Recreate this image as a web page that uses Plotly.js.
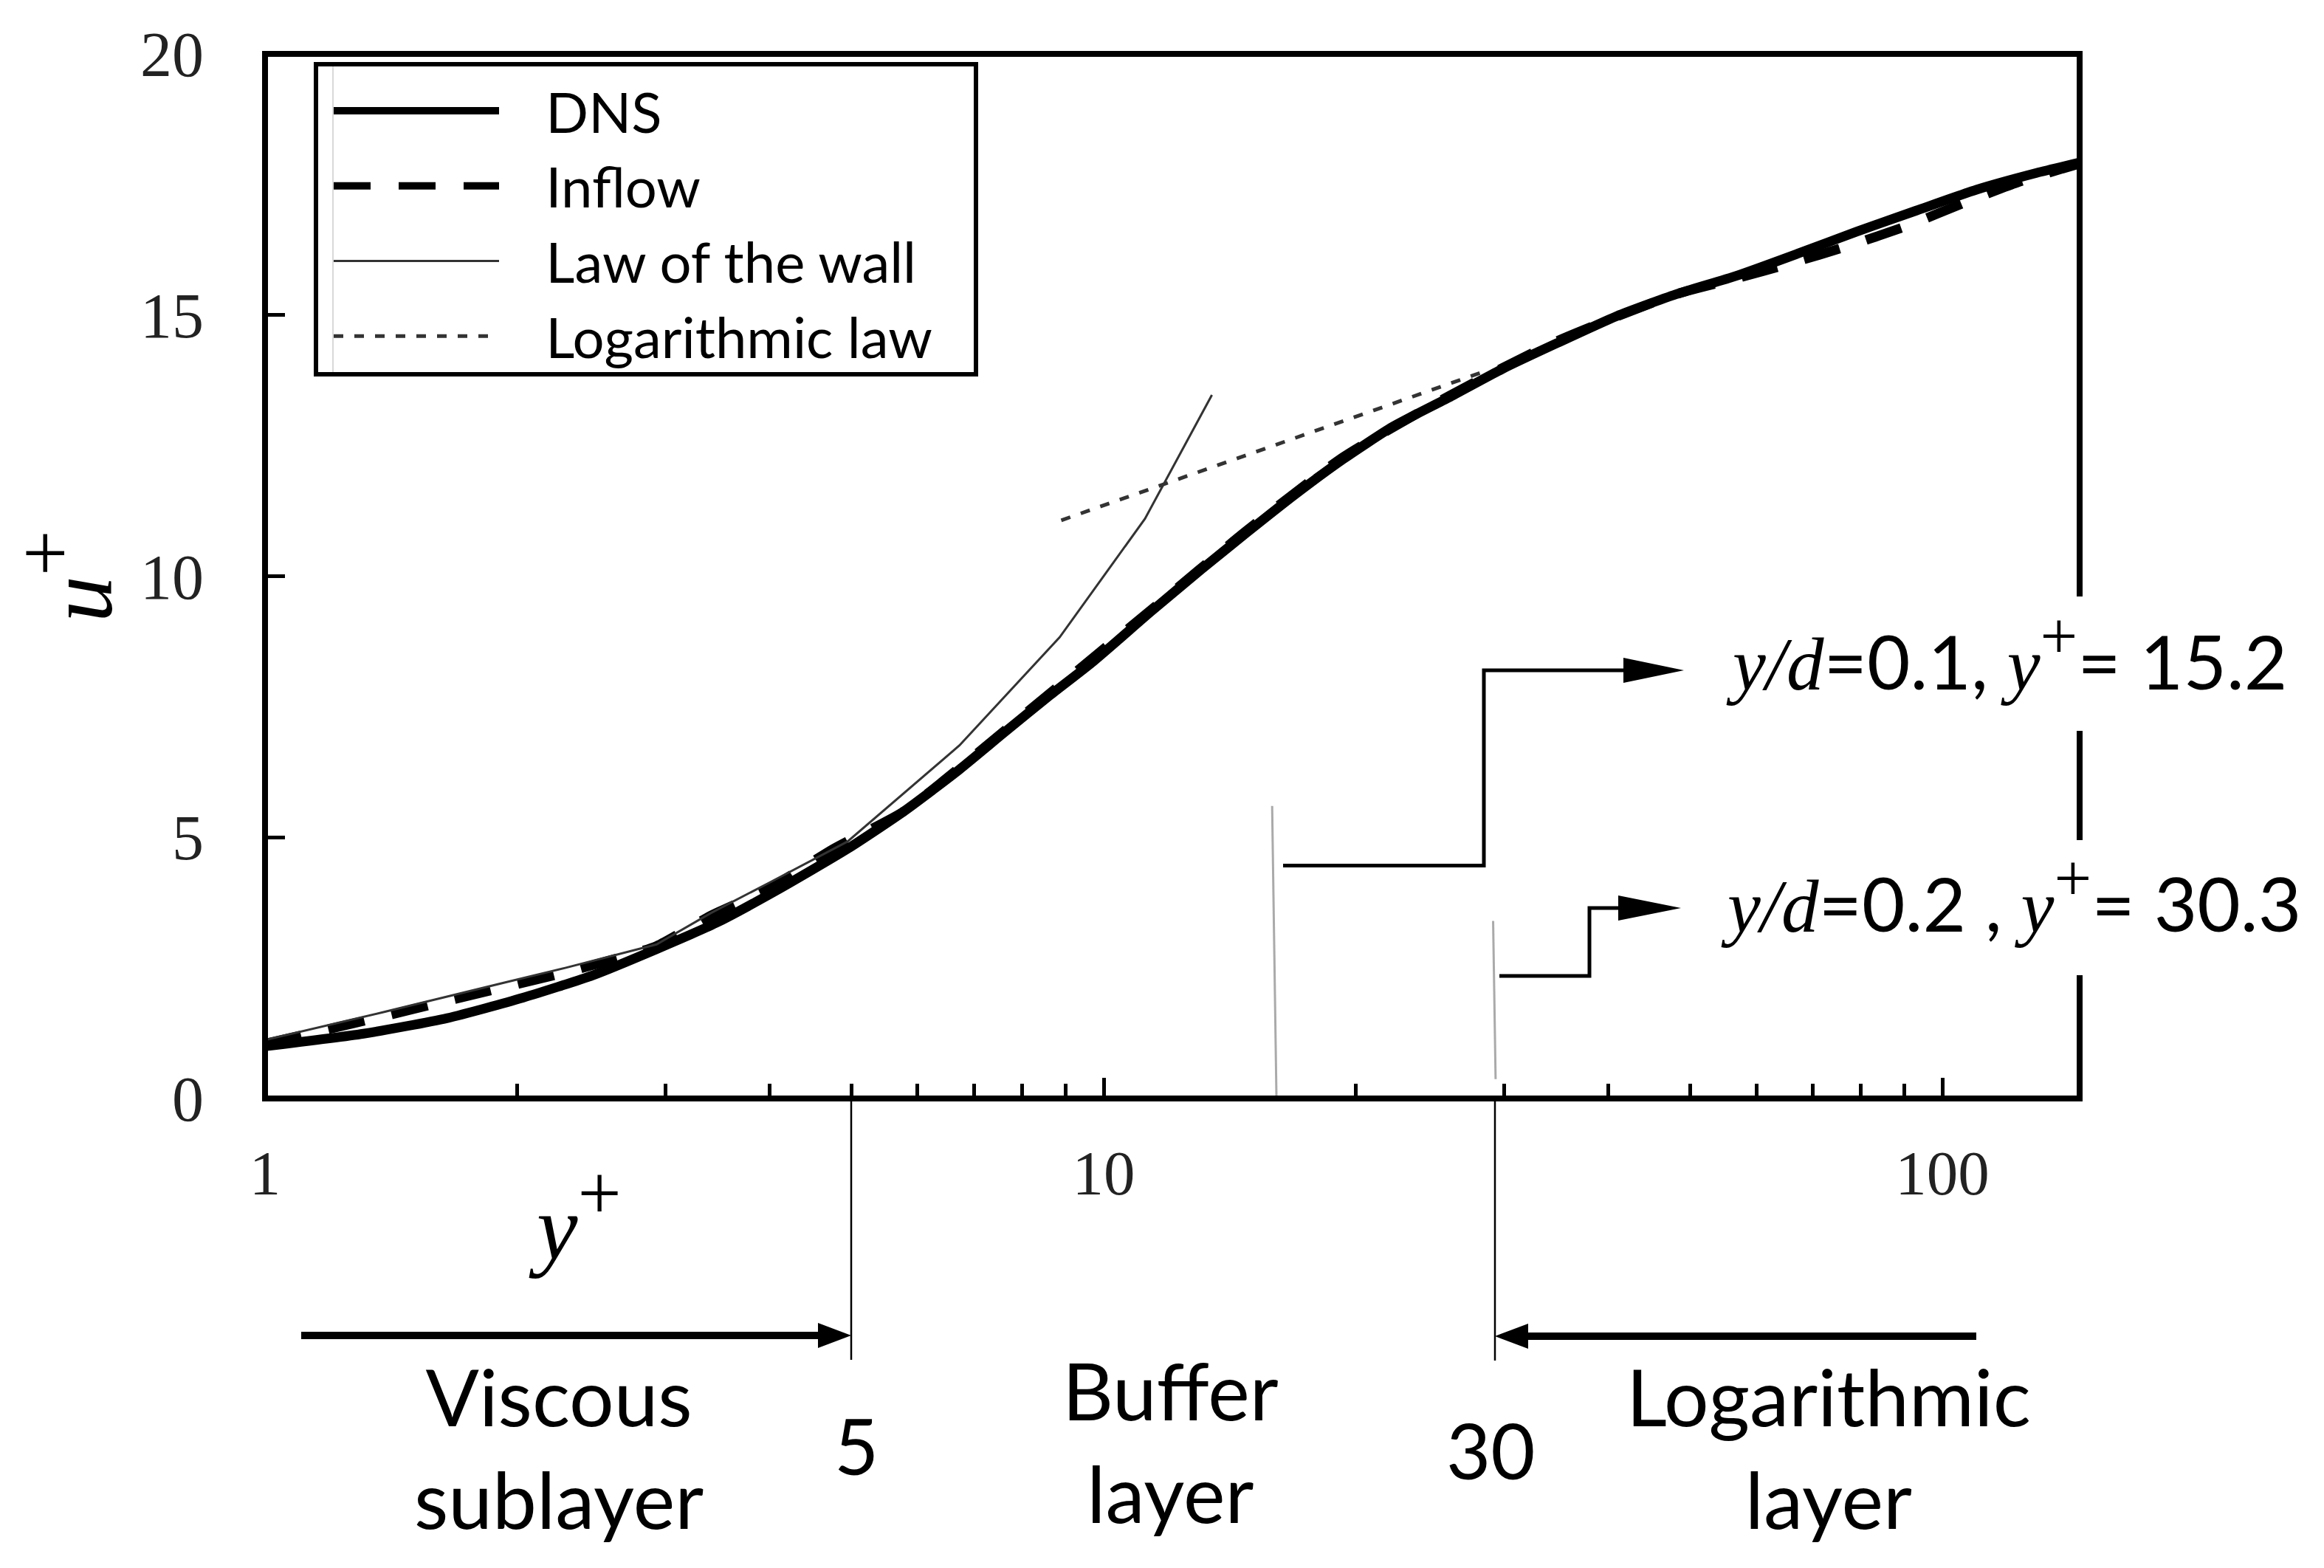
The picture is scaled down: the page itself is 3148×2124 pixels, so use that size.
<!DOCTYPE html>
<html>
<head>
<meta charset="utf-8">
<script src="https://cdn.plot.ly/plotly-3.0.1.min.js"></script>
<style>html,body{margin:0;padding:0;background:#fff}</style>
</head>
<body>
<div id="chart"></div>
<script>
// Series
const dnsX = [1,1.31,1.65,2.03,2.46,2.93,3.45,4.07,4.95,5.78,6.73,7.6,8.63,9.67,11.4,13.05,14.8,16.9,19.3,22.1,25.8,29.9,34.7,40.9,48.2,56.8,67.1,79.1,93.1,109.8,129.5,145.8];
const dnsY = [1.0,1.24,1.54,1.93,2.36,2.86,3.36,3.98,4.78,5.50,6.30,7.0,7.72,8.34,9.33,10.12,10.83,11.56,12.24,12.86,13.42,13.97,14.46,14.98,15.40,15.75,16.17,16.60,17.0,17.40,17.72,17.92];
const inflowX = [1,1.17,1.39,1.63,1.93,2.28,2.69,2.93,3.40,3.98,4.76,5.78,6.73,8.63,11.4,14.8,19.3,25.8,34.7,48.2,56.8,65.6,77.5,91.2,107,123,145.8];
const inflowY = [1.05,1.30,1.58,1.85,2.13,2.41,2.73,2.92,3.50,4.01,4.78,5.50,6.33,7.76,9.36,10.87,12.28,13.45,14.50,15.40,15.70,15.98,16.33,16.72,17.17,17.54,17.90];
const lawX = [1,1.39,1.93,2.28,2.93,3.40,3.98,4.95,6.73,8.86,11.2,13.46];
const lawY = [1.12,1.66,2.22,2.50,2.95,3.55,4.12,4.92,6.76,8.83,11.1,13.47];
const logLawX = [8.9,28.2];
const logLawY = [11.07,13.9];
const station1X = [15.88,16.07];
const station1Y = [5.6,0];
const station2X = [29.13,29.33];
const station2Y = [3.4,0.37];
const legendNames = ["DNS","Inflow","Law of the wall","Logarithmic law"];
const xTickVals = [1,10,100];
const xMinorVals = [2,3,4,5,6,7,8,9,20,30,40,50,60,70,80,90];
const yTickVals = [0,5,10,15,20];

// Plot-frame geometry in page pixels
const W = 3148, H = 2124, L = 359, R = 2817, T = 73, B = 1488;
const px = x => (x - L) / (R - L);
const py = y => (B - y) / (B - T);
const SERIF = '"Liberation Serif", serif';
const SANS = 'Lato, sans-serif';
const GAP = '\u00a0\u00a0\u00a0';

const traces = [
  {x: dnsX, y: dnsY, name: GAP + legendNames[0], mode: 'lines', legendgroup: 'a', line: {color: '#000', width: 13, shape: 'spline', smoothing: 0.6}},
  {x: inflowX, y: inflowY, name: GAP + legendNames[1], mode: 'lines', legendgroup: 'b', line: {color: '#000', width: 13, dash: '50px,38px', shape: 'spline', smoothing: 0.6}},
  {x: lawX, y: lawY, name: GAP + legendNames[2], mode: 'lines', legendgroup: 'c', line: {color: '#333', width: 3}},
  {x: logLawX, y: logLawY, name: GAP + legendNames[3], mode: 'lines', legendgroup: 'd', line: {color: '#333', width: 5, dash: '13px,15px'}},
  {x: station1X, y: station1Y, mode: 'lines', showlegend: false, line: {color: '#aaa', width: 3}},
  {x: station2X, y: station2Y, mode: 'lines', showlegend: false, line: {color: '#aaa', width: 3}}
];

const pth = pts => 'M' + pts.map(p => px(p[0]) + ' ' + py(p[1])).join('L');
const blackLine = {color: '#000', width: 5};
const shapeBase = {xref: 'paper', yref: 'paper', layer: 'above'};
const seg = (x0, y0, x1, y1, line) => Object.assign({}, shapeBase, {type: 'line', x0: px(x0), y0: py(y0), x1: px(x1), y1: py(y1), line});
const poly = (pts, closed) => Object.assign({}, shapeBase, {
  type: 'path', path: pth(pts) + (closed ? 'Z' : ''),
  fillcolor: closed ? '#000' : 'rgba(0,0,0,0)',
  line: closed ? {color: '#000', width: 0} : blackLine
});
const patch = (x0, y0, x1, y1) => Object.assign({}, shapeBase, {type: 'rect', x0: px(x0), y0: py(y0), x1: px(x1), y1: py(y1), fillcolor: '#fff', line: {width: 0}});

const shapes = [
  // plot frame
  Object.assign({}, shapeBase, {type: 'rect', x0: 0, y0: 0, x1: 1, y1: 1, line: {color: '#000', width: 8}}),
  // white boxes behind the station labels cut the frame
  patch(2790, 808, 2845, 990),
  patch(2790, 1138, 2845, 1321),
  // legend frame
  Object.assign({}, shapeBase, {type: 'rect', x0: px(428), y0: py(507), x1: px(1322), y1: py(87), fillcolor: '#fff', line: {color: '#000', width: 6}}),
  seg(451, 90, 451, 504, {color: '#ccc', width: 1.5}),
  // region boundaries under the axis
  seg(1153, 1488, 1153, 1842, {color: '#000', width: 2.5}),
  seg(2025, 1488, 2025, 1843, {color: '#000', width: 2.5}),
  // region arrows
  seg(408, 1809, 1120, 1809, {color: '#000', width: 10}),
  poly([[1153, 1809], [1108, 1792], [1108, 1826]], true),
  seg(2677, 1810, 2058, 1810, {color: '#000', width: 10}),
  poly([[2025, 1810], [2070, 1793], [2070, 1827]], true),
  // station connectors
  poly([[1738, 1172.5], [2010, 1172.5], [2010, 908], [2205, 908]], false),
  poly([[2281, 908], [2199, 891], [2199, 925]], true),
  poly([[2031, 1322], [2153, 1322], [2153, 1230], [2198, 1230]], false),
  poly([[2277, 1230], [2192, 1213], [2192, 1247]], true)
];

const label = (text, x, y, size, family) => ({
  text, xref: 'paper', yref: 'paper', x: px(x), y: py(y),
  xanchor: 'center', yanchor: 'middle', showarrow: false,
  font: {family: family || SANS, size, color: '#000'}
});
const serifCss = SERIF.replace(/"/g, "'");
const it = t => `<span style="font-family:${serifCss};font-style:italic">${t}</span>`;
const plus = size => `<sup><span style="font-family:${serifCss};font-size:${size}px">+</span></sup>`;

const annotations = [
  label('<i>y</i>' + plus(105), 779, 1645, 125, SERIF),
  label('Viscous<br>sublayer', 757, 1960, 107),
  label('Buffer<br>layer', 1585, 1952, 107),
  label('Logarithmic<br>layer', 2477, 1960, 107),
  label('5', 1160, 1957, 104),
  label('30', 2019, 1963, 104),
  label(it('y/d') + '=0.1, ' + it('y') + plus(90) + '= 15.2', 2718, 884, 101),
  label(it('y/d') + '=0.2 , ' + it('y') + plus(90) + '= 30.3', 2724, 1212, 101)
];

const layout = {
  width: W, height: H,
  margin: {l: L, r: W - R, t: T, b: H - B, pad: 0},
  paper_bgcolor: '#fff', plot_bgcolor: '#fff',
  showlegend: true,
  legend: {
    x: px(447), y: py(94), xanchor: 'left', yanchor: 'top',
    bgcolor: 'rgba(0,0,0,0)', borderwidth: 0,
    itemwidth: 224, tracegroupgap: 0, traceorder: 'grouped',
    font: {family: SANS, size: 76, color: '#000'}
  },
  xaxis: {
    type: 'log', range: [0, 2.1637], showline: false, showgrid: false, zeroline: false,
    tickmode: 'array', tickvals: xTickVals, ticktext: xTickVals.map(String),
    ticks: 'inside', ticklen: 28, tickwidth: 5, tickcolor: '#000',
    ticklabelstandoff: 44,
    tickfont: {family: SERIF, size: 85, color: '#222'},
    minor: {tickmode: 'array', tickvals: xMinorVals, ticks: 'inside', ticklen: 20, tickwidth: 5, tickcolor: '#000', showgrid: false}
  },
  yaxis: {
    range: [0, 20], showline: false, showgrid: false, zeroline: false,
    tickmode: 'array', tickvals: yTickVals, ticktext: yTickVals.map(String),
    ticks: 'inside', ticklen: 27, tickwidth: 5, tickcolor: '#000',
    ticklabelstandoff: 82,
    tickfont: {family: SERIF, size: 86, color: '#222'},
    title: {text: '<i>u</i><sup><span style="font-size:110px">+</span></sup>', standoff: 64, font: {family: SERIF, size: 125, color: '#000'}}
  },
  shapes, annotations
};

Plotly.newPlot('chart', traces, layout, {displayModeBar: false, responsive: false});
</script>
</body>
</html>
